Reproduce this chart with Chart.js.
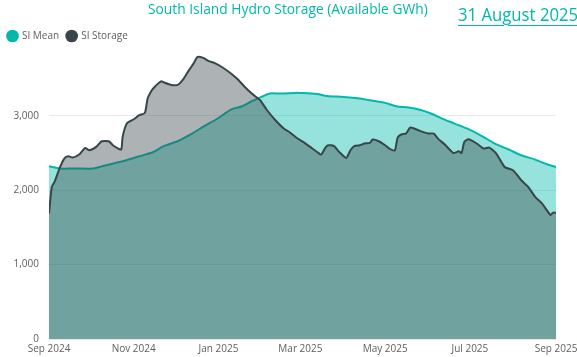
<!DOCTYPE html>
<html>
<head>
<meta charset="utf-8">
<script src="https://cdn.jsdelivr.net/npm/chart.js@4.4.1/dist/chart.umd.min.js"></script>
<style>
  html, body { margin: 0; padding: 0; background: #fff; }
  #wrap { position: relative; width: 577px; height: 357px; overflow: hidden; }
  #title { position: absolute; left: 148px; top: -1px; font-family: "Open Sans", sans-serif; font-size: 14px; color: #01B8AA; white-space: nowrap; transform: scaleX(0.985); transform-origin: left center; }
  #date { position: absolute; left: 458px; top: 1px; font-family: "Open Sans", sans-serif; font-size: 19px; color: #01B8AA; text-decoration: underline; text-underline-offset: 4px; text-decoration-thickness: 1px; white-space: nowrap; transform: scaleX(0.88); transform-origin: left center; }
  canvas { position: absolute; left: 0; top: 0; }
</style>
</head>
<body>
<div id="wrap">
  <canvas id="c" width="577" height="357"></canvas>
  <div id="title">South Island Hydro Storage (Available GWh)</div>
  <div id="date">31 August 2025</div>
</div>
<script>
// Day offsets from 1 Sep 2024
const meanDays = [0, 8, 19, 31, 41, 53, 65, 75, 83, 93, 103, 112, 122, 131, 139, 146, 153, 159, 167, 177, 180, 193, 200, 212, 224, 231, 241, 250, 259, 267, 275, 283, 292, 302, 312, 321, 331, 340, 350, 359, 365];
const meanValues = [2321, 2290, 2292, 2290, 2335, 2388, 2455, 2513, 2594, 2661, 2761, 2863, 2970, 3083, 3128, 3195, 3253, 3298, 3298, 3307, 3307, 3293, 3266, 3253, 3231, 3208, 3177, 3128, 3110, 3080, 3030, 2962, 2895, 2819, 2724, 2626, 2546, 2469, 2411, 2344, 2312];

const storageDays = [0, 2, 4, 8, 11, 14, 17, 22, 26, 29, 34, 38, 43, 46, 49, 52, 53, 56, 61, 65, 69, 71, 74, 76, 79, 81, 83, 88, 93, 97, 100, 104, 107, 111, 115, 119, 125, 131, 136, 141, 146, 152, 157, 163, 169, 173, 178, 183, 188, 193, 196, 199, 201, 205, 209, 214, 217, 220, 224, 227, 231, 233, 237, 242, 245, 249, 251, 254, 257, 260, 263, 267, 273, 277, 280, 285, 291, 295, 297, 299, 302, 308, 313, 317, 322, 328, 334, 340, 345, 350, 355, 361, 363, 365];
const storageValues = [1685, 2043, 2111, 2312, 2425, 2455, 2438, 2483, 2567, 2536, 2581, 2657, 2657, 2604, 2567, 2546, 2715, 2895, 2953, 3007, 3038, 3231, 3343, 3387, 3441, 3464, 3446, 3414, 3419, 3500, 3589, 3701, 3790, 3777, 3733, 3710, 3648, 3567, 3487, 3387, 3298, 3208, 3074, 2940, 2828, 2782, 2707, 2648, 2581, 2513, 2478, 2572, 2604, 2594, 2513, 2433, 2536, 2594, 2604, 2626, 2635, 2680, 2661, 2604, 2559, 2536, 2707, 2751, 2761, 2841, 2828, 2796, 2761, 2761, 2693, 2613, 2500, 2523, 2500, 2648, 2684, 2626, 2559, 2572, 2492, 2312, 2267, 2133, 2043, 1909, 1820, 1667, 1699, 1697];

const tickDays = [0, 61, 122, 181, 242, 303, 365];
const tickLabels = ['Sep 2024', 'Nov 2024', 'Jan 2025', 'Mar 2025', 'May 2025', 'Jul 2025', 'Sep 2025'];
const yTicks = [0, 1000, 2000, 3000];

const teal = '#01B8AA';
const dark = '#374649';

new Chart(document.getElementById('c'), {
  type: 'line',
  data: {
    datasets: [
      {
        label: 'SI Mean',
        data: meanDays.map((d, i) => ({ x: d, y: meanValues[i] })),
        borderColor: teal,
        backgroundColor: 'rgba(1,184,170,0.41)',
        fill: 'origin',
        borderWidth: 2,
        pointRadius: 0,
        tension: 0.3,
        order: 1
      },
      {
        label: 'SI Storage',
        data: storageDays.map((d, i) => ({ x: d, y: storageValues[i] })),
        borderColor: dark,
        backgroundColor: 'rgba(55,70,73,0.41)',
        fill: 'origin',
        borderWidth: 2,
        pointRadius: 0,
        tension: 0.2,
        order: 0
      }
    ]
  },
  options: {
    responsive: false,
    animation: false,
    layout: { padding: { top: 23, left: 0, right: 0, bottom: 0 } },
    plugins: {
      legend: {
        position: 'top',
        align: 'start',
        labels: {
          usePointStyle: true,
          pointStyle: 'circle',
          boxWidth: 9,
          boxHeight: 9,
          padding: 8,
          color: '#605E5C',
          font: { family: 'Open Sans', size: 10 },
          sort: (a, b) => a.datasetIndex - b.datasetIndex,
          generateLabels: (chart) => chart.data.datasets.map((ds, i) => ({
            text: ds.label,
            fillStyle: ds.borderColor,
            strokeStyle: ds.borderColor,
            lineWidth: 0,
            pointStyle: 'circle',
            datasetIndex: i,
            hidden: false,
            fontColor: '#605E5C'
          }))
        }
      },
      tooltip: { enabled: false }
    },
    scales: {
      x: {
        type: 'linear',
        min: 0,
        max: 365,
        afterBuildTicks: (axis) => { axis.ticks = tickDays.map(v => ({ value: v })); },
        afterFit: (scale) => { scale.height = 18; scale.paddingRight = 21; },
        ticks: {
          autoSkip: false,
          maxRotation: 0,
          padding: 4,
          color: '#605E5C',
          font: { family: 'Open Sans', size: 10 },
          callback: (v) => { const i = tickDays.indexOf(v); return i >= 0 ? tickLabels[i] : ''; }
        },
        grid: { display: false, drawTicks: false },
        border: { display: false }
      },
      y: {
        min: 0,
        max: 3870,
        afterBuildTicks: (axis) => { axis.ticks = yTicks.map(v => ({ value: v })); },
        afterFit: (scale) => { scale.width = 49; },
        ticks: {
          padding: 10,
          color: '#605E5C',
          font: { family: 'Open Sans', size: 10 },
          callback: (v) => v.toLocaleString('en-US')
        },
        grid: { color: '#E9E9E9', lineWidth: 1, drawTicks: false },
        border: { display: false }
      }
    }
  }
});
</script>
</body>
</html>
